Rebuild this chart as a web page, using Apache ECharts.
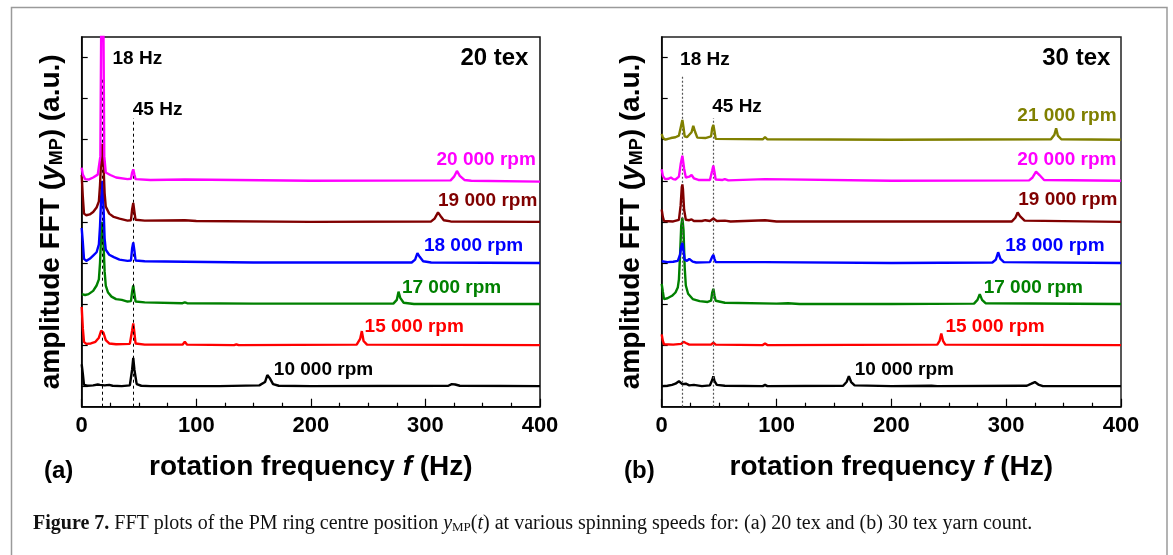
<!DOCTYPE html>
<html>
<head>
<meta charset="utf-8">
<script src="https://cdn.jsdelivr.net/npm/echarts@6/dist/echarts.min.js"></script>
<style>
  html, body { margin: 0; padding: 0; background: #fff; }
  #chart { width: 1173px; height: 555px; }
</style>
</head>
<body>
<div id="chart"></div>
<script>
// spinning speeds, bottom trace first
const speedsA = ["10 000 rpm", "15 000 rpm", "17 000 rpm", "18 000 rpm", "19 000 rpm", "20 000 rpm"];
const speedsB = ["10 000 rpm", "15 000 rpm", "17 000 rpm", "18 000 rpm", "19 000 rpm", "20 000 rpm", "21 000 rpm"];
const colorsB = ["#000000", "#ff0000", "#008000", "#0000ff", "#800000", "#ff00ff", "#808000"];
const refFreqs = [18, 45];   // Hz, dotted guides
const xTicks = [0, 100, 200, 300, 400];

// FFT amplitude (a.u.) vs frequency (Hz); [Hz, amplitude]
// (a) 20 tex
const a10k = [[0,0.53],[1,0.3],[2,0.03],[5,0.01],[10,0.02],[14,0.04],[16,0.03],[20,0.02],[24,0.03],[27,0.01],[35,0],[42,0.02],[44,0.4],[45,0.69],[46,0.4],[48,0.05],[52,0.01],[60,0],[89,0],[90,0.04],[91,0],[120,0],[155,0.02],[160,0.1],[162,0.27],[164,0.2],[167,0.05],[172,0.01],[200,0],[320,0.01],[323,0.05],[324,0.08],[326,0.04],[330,0.01],[400,0]];
const a15k = [[0,0.93],[1,0.4],[2,0.08],[4,0.03],[8,0.04],[12,0.08],[15,0.18],[17,0.35],[18,0.38],[19,0.3],[21,0.12],[24,0.04],[30,0.02],[42,0.03],[44,0.35],[45,0.53],[46,0.3],[47,0.04],[55,0.01],[88,0.01],[90,0.08],[92,0.01],[133,0],[135,0.02],[137,0],[240,0.01],[243,0.15],[244.5,0.34],[246,0.1],[249,0.01],[400,0]];
const a17k = [[0,0.24],[3,0.22],[6,0.24],[10,0.32],[13,0.45],[15,0.6],[16,1.0],[17,1.7],[18,2.0],[19,1.5],[20,0.8],[21,0.45],[23,0.28],[26,0.18],[30,0.12],[35,0.1],[40,0.06],[43,0.07],[44,0.3],[45,0.45],[46,0.25],[47,0.06],[55,0.04],[88,0.02],[90,0.04],[92,0.02],[150,0.01],[272,0.01],[275,0.1],[276.5,0.3],[278,0.15],[281,0.03],[290,0],[400,0]];
const a18k = [[0,0.85],[1,0.5],[2,0.1],[4,0.05],[7,0.1],[10,0.18],[13,0.26],[15,0.45],[16,0.9],[17,1.6],[18,2.0],[19,1.4],[20,0.6],[21,0.32],[24,0.2],[28,0.14],[33,0.08],[40,0.05],[43,0.06],[44,0.35],[45,0.5],[46,0.3],[47,0.06],[55,0.04],[90,0.03],[150,0.01],[288,0.01],[291,0.08],[293,0.24],[295,0.15],[298,0.04],[305,0.01],[400,0]];
const a19k = [[0,1.14],[1,0.6],[2,0.2],[4,0.16],[7,0.18],[10,0.24],[13,0.35],[15,0.5],[16,0.9],[17,1.5],[18,1.9],[19,1.4],[20,0.7],[21,0.37],[24,0.2],[28,0.12],[33,0.08],[40,0.03],[43,0.04],[44,0.3],[45,0.46],[46,0.25],[47,0.05],[55,0.03],[90,0.04],[100,0.02],[200,0],[305,0.01],[308,0.08],[311,0.23],[313,0.15],[316,0.04],[322,0.01],[400,0]];
const a20k = [[0,0.32],[1,0.15],[3,0.04],[6,0.03],[10,0.08],[14,0.15],[16.3,0.6],[17.2,4.5],[18,6],[18.8,4.5],[19.7,0.6],[21,0.2],[25,0.14],[30,0.08],[40,0.04],[43,0.05],[44,0.2],[45,0.28],[46,0.15],[47,0.04],[60,0.02],[90,0.03],[200,0],[322,0.01],[325,0.1],[327.5,0.24],[330,0.12],[334,0.02],[340,0],[400,-0.02]];
// (b) 30 tex
const b10k = [[0,0],[5,0.01],[9,0.03],[12,0.06],[15,0.12],[16.5,0.1],[18,0.05],[21,0.06],[24,0.02],[28,0.03],[35,0],[42,0.02],[44,0.15],[45,0.24],[46,0.12],[48,0.03],[55,0.01],[88,0],[90,0.03],[92,0],[158,0.01],[161,0.1],[163,0.24],[165,0.1],[168,0.02],[200,0],[235,0.01],[240,0],[318,0.01],[322,0.06],[325,0.1],[328,0.04],[332,0],[400,0]];
const b15k = [[0,0.26],[1,0.1],[2,0.02],[10,0.01],[17,0.03],[19,0.08],[20,0.1],[21,0.05],[24,0.01],[43,0.01],[45,0.06],[47,0.01],[88,0],[90,0.04],[92,0],[240,0.01],[242,0.1],[243.5,0.28],[245,0.1],[247,0.01],[400,0]];
const b17k = [[0,0.49],[1,0.3],[2,0.12],[5,0.14],[9,0.2],[12,0.28],[14,0.4],[15,0.6],[16,1.2],[17,1.9],[18,2.1],[19,1.8],[20,0.9],[21,0.45],[23,0.25],[27,0.12],[33,0.07],[40,0.05],[43,0.08],[44,0.28],[45,0.37],[46,0.2],[47,0.08],[55,0.03],[100,0.01],[110,0.02],[120,0],[200,0],[272,0.01],[275,0.1],[277,0.24],[279,0.1],[282,0.02],[400,0]];
const b18k = [[0,0.04],[5,0.02],[10,0.03],[14,0.05],[16,0.2],[17,0.4],[18,0.49],[19,0.3],[20,0.08],[22,0.05],[24,0.1],[25,0.1],[27,0.03],[30,0.01],[42,0.02],[44,0.15],[45,0.2],[46,0.1],[47,0.02],[90,0.02],[200,0],[288,0.01],[291,0.08],[293,0.26],[295,0.1],[298,0.02],[400,0]];
const b19k = [[0,0.3],[1,0.12],[2,0.02],[10,0.01],[15,0.05],[16.5,0.4],[17.5,0.85],[18,0.91],[18.5,0.8],[19.5,0.3],[21,0.05],[24,0.04],[26,0.06],[28,0.02],[35,0.02],[38,0.04],[42,0.02],[45,0.08],[48,0.02],[55,0.03],[60,0.01],[90,0.04],[100,0.01],[305,0.01],[308,0.1],[310,0.23],[312,0.14],[316,0.03],[400,0]];
const b20k = [[0,0.28],[1,0.12],[3,0.04],[6,0.05],[8,0.08],[10,0.04],[12,0.03],[15,0.1],[16.5,0.4],[18,0.61],[19.5,0.3],[21,0.08],[24,0.1],[26,0.14],[28,0.06],[32,0.02],[42,0.02],[44,0.25],[45,0.37],[46,0.2],[47,0.03],[53,0.02],[55,0.04],[58,0.01],[90,0.04],[200,0],[320,0.01],[323,0.08],[326,0.22],[329,0.14],[333,0.02],[400,0]];
const b21k = [[0,0.14],[1,0.05],[3,0],[8,0.04],[12,0.06],[15,0.1],[17,0.35],[18,0.48],[19,0.3],[20,0.08],[22,0.06],[26,0.18],[27.5,0.34],[29,0.2],[31,0.05],[38,0.04],[43,0.08],[44,0.28],[45,0.36],[46,0.2],[47,0.02],[88,0.01],[90,0.06],[92,0.01],[200,0],[339,0.01],[342,0.12],[343.5,0.28],[345,0.1],[348,0.01],[400,0]];

const spectraA = [a10k, a15k, a17k, a18k, a19k, a20k];
const spectraB = [b10k, b15k, b17k, b18k, b19k, b20k, b21k];

const FONT = "'Liberation Sans', Arial, Helvetica, sans-serif";
const SERIF = "'Liberation Serif', 'DejaVu Serif', serif";
const chart = echarts.init(document.getElementById("chart"));

// where each rpm label sits (Hz of left edge, axis units of middle)
const notePosA = [[167.7,0.91],[246.9,1.95],[279.5,2.9],[298.7,3.91],[311,5.01],[309.7,6.02]];
const notePosB = [[168.1,0.91],[247.1,1.95],[280.4,2.9],[299.2,3.91],[310.5,5.03],[309.6,6.02],[309.7,7.08]];

function boldLabel(txt, color, size, pos) {
  return {
    show: true, position: pos || "right", distance: 0,
    formatter: txt, color: color, fontSize: size,
    fontWeight: "bold", fontFamily: FONT
  };
}

function buildSeries(spectra, speeds, notes, panel, extra) {
  return spectra.map((pts, k) => {
    let s = {
      type: "line",
      xAxisIndex: panel,
      yAxisIndex: panel,
      showSymbol: false,
      clip: true,
      z: 2 + k,
      lineStyle: { color: colorsB[k], width: 2.4 },
      itemStyle: { color: colorsB[k] },
      data: pts.map(p => [p[0], p[1] + 0.5 + k]), // stacked traces
      markPoint: {
        symbol: "circle", symbolSize: 0, silent: true,
        itemStyle: { color: "transparent" },
        data: [{ coord: notes[k], label: boldLabel(speeds[k], colorsB[k], 19) }]
      }
    };
    if (k === 0) {
      s.markLine = extra.line;
      s.markPoint.data = s.markPoint.data.concat(extra.points);
    }
    return s;
  });
}

const guideA = {
  line: {
    silent: true, symbol: ["none", "none"], animation: false,
    label: { show: false },
    lineStyle: { type: [3, 3], color: "#000", width: 1 },
    data: [[{ coord: [refFreqs[0], 0] }, { coord: [refFreqs[0], 8.03] }],
           [{ coord: [refFreqs[1], 0] }, { coord: [refFreqs[1], 7.02] }]]
  },
  points: [
    { coord: [26.9, 8.46], label: boldLabel(refFreqs[0] + " Hz", "#000", 19) },
    { coord: [44.6, 7.22], label: boldLabel(refFreqs[1] + " Hz", "#000", 19) },
    { coord: [389.9, 8.48], label: boldLabel("20 tex", "#000", 24, "left") }
  ]
};
const guideB = {
  line: {
    silent: true, symbol: ["none", "none"], animation: false,
    label: { show: false },
    lineStyle: { type: [2, 2], color: "#555", width: 1.2 },
    data: [[{ coord: [refFreqs[0], 0] }, { coord: [refFreqs[0], 8.03] }],
           [{ coord: [refFreqs[1], 0] }, { coord: [refFreqs[1], 7.02] }]]
  },
  points: [
    { coord: [16, 8.44], label: boldLabel(refFreqs[0] + " Hz", "#000", 19) },
    { coord: [44, 7.3], label: boldLabel(refFreqs[1] + " Hz", "#000", 19) },
    { coord: [390.7, 8.48], label: boldLabel("30 tex", "#000", 24, "left") }
  ]
};

const nameRich = {
  n: { fontSize: 28, fontWeight: "bold", fontFamily: FONT, color: "#000" },
  i: { fontSize: 28, fontWeight: "bold", fontStyle: "italic", fontFamily: FONT, color: "#000" },
  s: { fontSize: 18, fontWeight: "bold", fontFamily: FONT, color: "#000", verticalAlign: "bottom" }
};

function xAxisFor(panel) {
  return {
    type: "value", gridIndex: panel, min: 0, max: 400, interval: 100,
    axisLine: { show: true, lineStyle: { color: "#000", width: 1.5 } },
    axisTick: { show: true, inside: true, length: 8, lineStyle: { color: "#000", width: 1.2 } },
    minorTick: { show: true, splitNumber: 4, length: 4, lineStyle: { color: "#000", width: 1.2 } },
    splitLine: { show: false },
    axisLabel: {
      color: "#000", fontSize: 22, fontWeight: "bold", fontFamily: FONT, margin: 8,
      formatter: v => (xTicks.indexOf(v) >= 0 ? String(v) : "")
    },
    name: "{n|rotation frequency }{i|f}{n| (Hz)}",
    nameLocation: "middle", nameGap: 47,
    nameTextStyle: { rich: nameRich }
  };
}

function yAxisFor(panel) {
  return {
    type: "value", gridIndex: panel, min: 0, max: 9,
    axisLine: { show: true, lineStyle: { color: "#000", width: 1.5 } },
    axisTick: {
      show: true, inside: true, length: 6,
      customValues: [0.5, 1.5, 2.5, 3.5, 4.5, 5.5, 6.5, 7.5, 8.5],
      lineStyle: { color: "#000", width: 1.2 }
    },
    axisLabel: { show: false },
    splitLine: { show: false },
    name: "{n|amplitude FFT (}{i|y}{s|MP}{n|) (a.u.)}",
    nameLocation: "middle", nameRotate: 90, nameGap: 16,
    nameTextStyle: { rich: nameRich }
  };
}

const option = {
  backgroundColor: "#fff",
  animation: false,
  grid: [
    { left: 81.7, top: 37, width: 458.3, height: 369.7, show: true, borderColor: "#111", borderWidth: 1.5 },
    { left: 661.7, top: 37, width: 459.3, height: 369.7, show: true, borderColor: "#222", borderWidth: 1.5 }
  ],
  xAxis: [xAxisFor(0), xAxisFor(1)],
  yAxis: [yAxisFor(0), yAxisFor(1)],
  series: buildSeries(spectraA, speedsA, notePosA, 0, guideA)
    .concat(buildSeries(spectraB, speedsB, notePosB, 1, guideB)),
  graphic: [
    {
      type: "rect", silent: true, z: 0,
      shape: { x: 11.5, y: 7.5, width: 1155.5, height: 570 },
      style: { fill: "none", stroke: "#9a9a9a", lineWidth: 1.5 }
    },
    {
      type: "text", left: 44, top: 459,
      style: { text: "(a)", fill: "#000", font: "bold 24px " + FONT }
    },
    {
      type: "text", left: 624, top: 459,
      style: { text: "(b)", fill: "#000", font: "bold 24px " + FONT }
    },
    {
      type: "text", left: 33, top: 514,
      style: {
        text: "{b|Figure 7.} FFT plots of the PM ring centre position {i|y}{s|MP}({i|t}) at various spinning speeds for: (a) 20 tex and (b) 30 tex yarn count.",
        fill: "#111",
        font: "20px " + SERIF,
        rich: {
          b: { fontWeight: "bold", fontSize: 20, fontFamily: SERIF, fill: "#111" },
          i: { fontStyle: "italic", fontSize: 20, fontFamily: SERIF, fill: "#111" },
          s: { fontSize: 13, fontFamily: SERIF, fill: "#111", verticalAlign: "bottom" }
        }
      }
    }
  ]
};

chart.setOption(option);
</script>
</body>
</html>
